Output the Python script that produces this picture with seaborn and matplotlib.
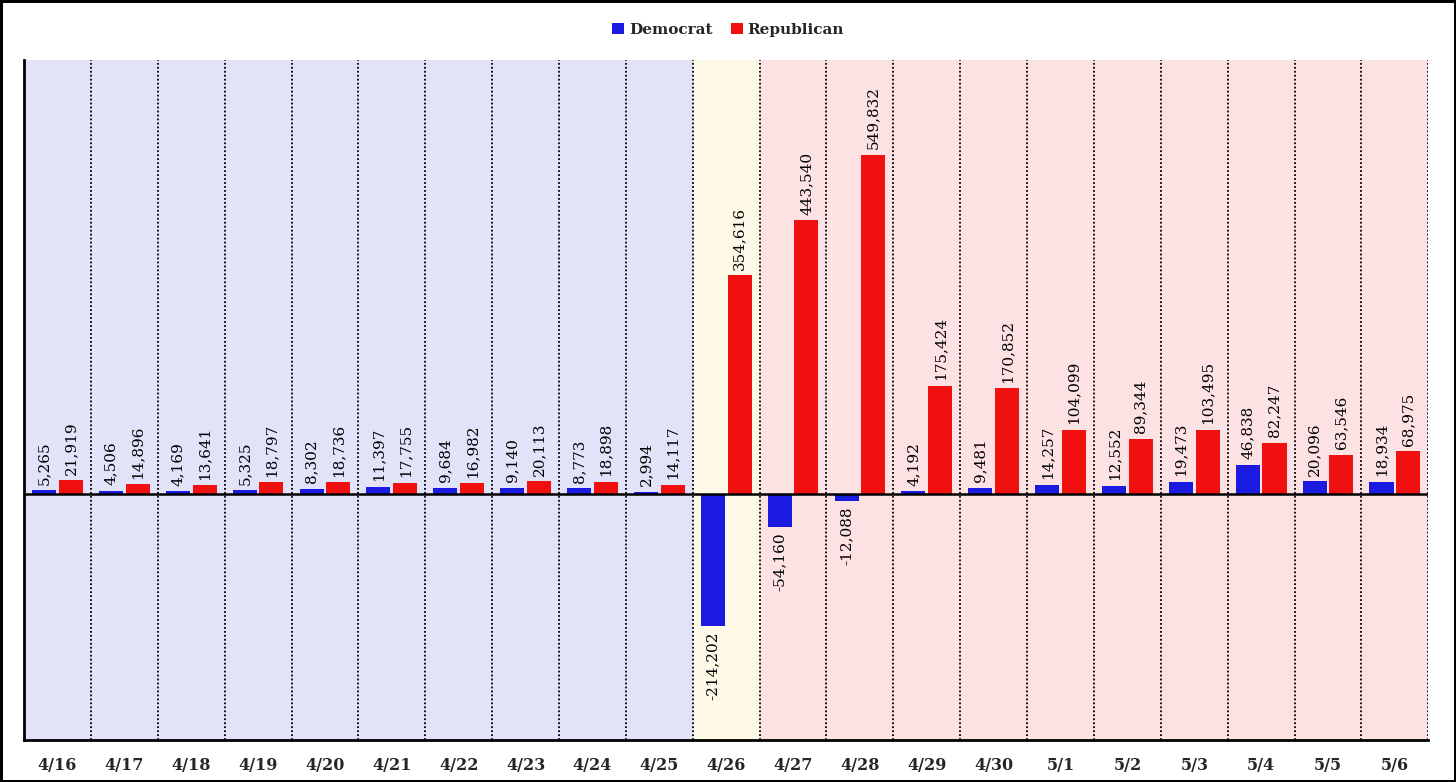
import pandas as pd
import matplotlib.pyplot as plt
import seaborn as sns

dates = ["4/16", "4/17", "4/18", "4/19", "4/20", "4/21", "4/22", "4/23", "4/24", "4/25", "4/26",
         "4/27", "4/28", "4/29", "4/30", "5/1", "5/2", "5/3", "5/4", "5/5", "5/6"]
democrat = [5265, 4506, 4169, 5325, 8302, 11397, 9684, 9140, 8773, 2994, -214202,
            -54160, -12088, 4192, 9481, 14257, 12552, 19473, 46838, 20096, 18934]
republican = [21919, 14896, 13641, 18797, 18736, 17755, 16982, 20113, 18898, 14117, 354616,
              443540, 549832, 175424, 170852, 104099, 89344, 103495, 82247, 63546, 68975]

# shaded periods: (first date, last date, colour)
periods = [("4/16", "4/25", "#e2e2f9"), ("4/26", "4/26", "#fef8e6"), ("4/27", "5/6", "#fde2e3")]

df = pd.DataFrame({
    "date": dates * 2,
    "votes": democrat + republican,
    "party": ["Democrat"] * len(dates) + ["Republican"] * len(dates),
})

sns.set_style("white")
serif = ["DejaVu Serif"]

fig = plt.figure(figsize=(14.56, 7.82), dpi=100, linewidth=2.5, edgecolor="black")
ax = fig.add_axes([0.0165, 0.0537, 0.9645, 0.8695])

for start, end, col in periods:
    ax.axvspan(dates.index(start) - 0.5, dates.index(end) + 0.5, color=col, zorder=0, lw=0)

sns.barplot(data=df, x="date", y="votes", hue="party", order=dates,
            palette={"Democrat": "#1a1ae0", "Republican": "#f01010"},
            width=0.8, gap=0.1, saturation=1, linewidth=0, ax=ax, zorder=2)

for i in range(len(dates)):
    ax.axvline(i + 0.5, color="black", ls=(0, (1, 1.2)), lw=1.3, zorder=1)

ax.axhline(0, color="black", lw=1.8, zorder=3)

for cont in ax.containers:
    ax.bar_label(cont, labels=[f"{v:,.0f}" for v in cont.datavalues], rotation=90,
                 padding=4, fontsize=11, family=serif, color="black")

ax.set_xlim(-0.5, len(dates) - 0.5)
ax.set_ylim(-400000, 704000)
ax.set_xlabel("")
ax.set_ylabel("")
ax.set_yticks([])
ax.tick_params(axis="x", length=0, pad=12)
for lab in ax.get_xticklabels():
    lab.set_family(serif)
    lab.set_fontweight("bold")
    lab.set_fontsize(11.5)

for side in ["top", "right"]:
    ax.spines[side].set_visible(False)
for side in ["left", "bottom"]:
    ax.spines[side].set_linewidth(2)
    ax.spines[side].set_color("black")

handles, labels = ax.get_legend_handles_labels()
ax.legend_.remove()
fig.legend(handles, labels, loc="center", bbox_to_anchor=(0.5, 0.962), ncol=2, frameon=False,
           handlelength=0.8, handleheight=0.8, handletextpad=0.3, columnspacing=1.2,
           prop={"family": serif, "weight": "bold", "size": 11})

fig.savefig("out.png", dpi=100)
